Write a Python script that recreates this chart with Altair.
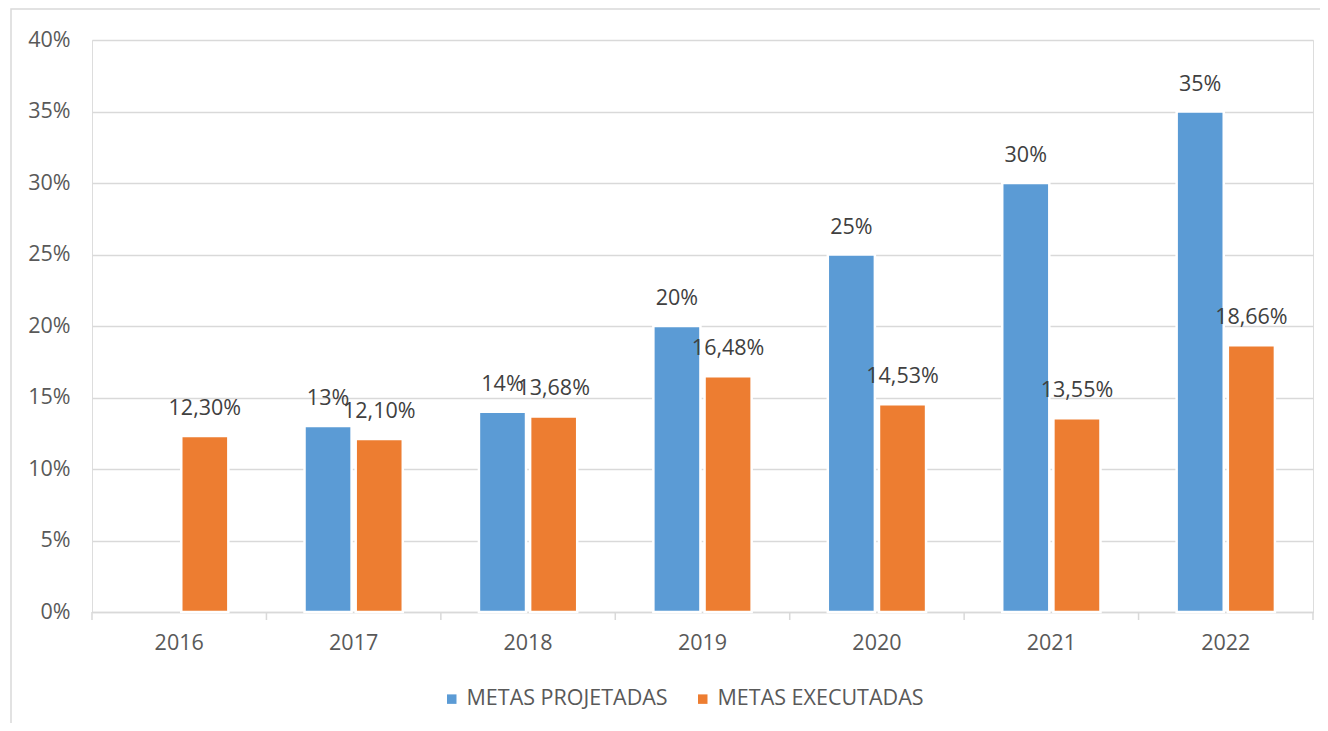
import altair as alt
import pandas as pd

years = ["2016", "2017", "2018", "2019", "2020", "2021", "2022"]
projetadas = [None, 0.13, 0.14, 0.20, 0.25, 0.30, 0.35]
projetadas_labels = ["", "13%", "14%", "20%", "25%", "30%", "35%"]
executadas = [0.1230, 0.1210, 0.1368, 0.1648, 0.1453, 0.1355, 0.1866]
executadas_labels = ["12,30%", "12,10%", "13,68%", "16,48%", "14,53%", "13,55%", "18,66%"]
series = ["METAS PROJETADAS", "METAS EXECUTADAS"]

rows = []
for y, v, l in zip(years, projetadas, projetadas_labels):
    if v is not None:
        rows.append({"ano": y, "serie": series[0], "valor": v, "rotulo": l})
for y, v, l in zip(years, executadas, executadas_labels):
    rows.append({"ano": y, "serie": series[1], "valor": v, "rotulo": l})
df = pd.DataFrame(rows)

W, H = 1221, 572
FONT = "Open Sans"
FS = 21.5
GRAY = "#595959"

x_enc = alt.X("ano:N", sort=years, title=None,
              scale=alt.Scale(paddingInner=0, paddingOuter=0),
              axis=alt.Axis(labelAngle=0, labelFontSize=FS, labelColor=GRAY, labelFont=FONT,
                            ticks=False, domainColor="#d9d9d9", domainWidth=1.5,
                            labelPadding=20))
xoff = alt.XOffset("serie:N", sort=series,
                   scale=alt.Scale(paddingInner=0.08, paddingOuter=0.744))
y_enc = alt.Y("valor:Q", title=None,
              scale=alt.Scale(domain=[0, 0.4]),
              axis=alt.Axis(values=[0, 0.05, 0.1, 0.15, 0.2, 0.25, 0.3, 0.35, 0.4],
                            format=".0%", labelFontSize=FS, labelColor=GRAY, labelFont=FONT,
                            domain=False, ticks=False, labelPadding=22,
                            gridColor="#d9d9d9", gridWidth=1.5))
color = alt.Color("serie:N", sort=series, title=None,
                  scale=alt.Scale(domain=series, range=["#5B9BD5", "#ED7D31"]),
                  legend=alt.Legend(orient="none", legendX=349, legendY=648, direction="horizontal",
                                    symbolType="square", symbolSize=90, symbolStrokeWidth=0,
                                    labelFontSize=FS, labelColor=GRAY, labelFont=FONT,
                                    columnPadding=24, labelLimit=400))

bars = alt.Chart(df).mark_bar(stroke="white", strokeWidth=2.5).encode(
    x=x_enc, xOffset=xoff, y=y_enc, color=color)

labels = alt.Chart(df).mark_text(fontSize=FS, color="#404040", font=FONT, dy=-27,
                                 baseline="middle").encode(
    x=alt.X("ano:N", sort=years), xOffset=alt.XOffset("serie:N", sort=series),
    y="valor:Q", text="rotulo:N")

ticks = alt.Chart(pd.DataFrame({"ano": years})).mark_rule(color="#d9d9d9", strokeWidth=1.5).encode(
    x=alt.X("ano:N", sort=years, bandPosition=0),
    y=alt.value(H), y2=alt.value(H + 8))

tick_end = alt.Chart(pd.DataFrame({"a": [1]})).mark_rule(color="#d9d9d9", strokeWidth=1.5).encode(
    x=alt.value(W), y=alt.value(H), y2=alt.value(H + 8))

border = alt.Chart(pd.DataFrame({"a": [1]})).mark_rect(
    fill=None, stroke="#d9d9d9", strokeWidth=1.5, clip=False).encode(
    x=alt.value(-81), x2=alt.value(W + 30), y=alt.value(-31), y2=alt.value(H + 130))

chart = alt.layer(border, bars, labels, ticks, tick_end).properties(
    width=W, height=H,
    autosize=alt.AutoSizeParams(type="none"),
    padding={"left": 84, "top": 32, "right": 7, "bottom": 111},
).configure_view(stroke=None).configure(background="white")

chart.save("out.html", embed_options={"renderer": "svg", "actions": False})
